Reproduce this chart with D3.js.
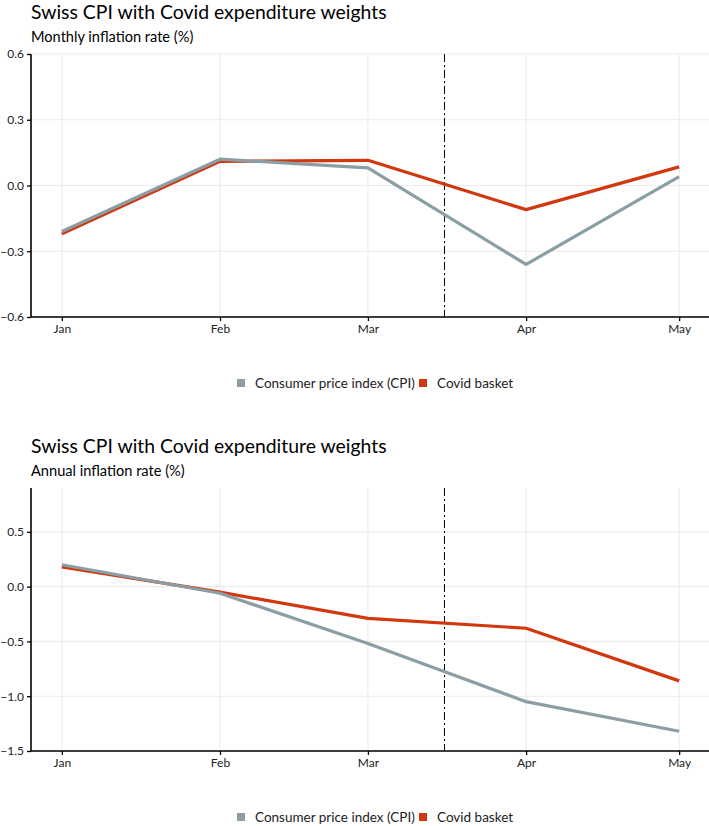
<!DOCTYPE html>
<html>
<head>
<meta charset="utf-8">
<script src="https://cdn.jsdelivr.net/npm/d3@7"></script>
<style>
  html, body { margin: 0; padding: 0; background: #fff; }
  svg { display: block; }
  text { font-family: "Lato", "Open Sans", sans-serif; }
</style>
</head>
<body>
<svg id="chart" width="709" height="826"></svg>
<script>
// ---- data ----
const months = ["2020-01-01", "2020-02-01", "2020-03-01", "2020-04-01", "2020-05-01"];
const monthLabels = ["Jan", "Feb", "Mar", "Apr", "May"];
const lockdownDate = "2020-03-16";

const monthlyCPI   = [-0.21, 0.12, 0.08, -0.36, 0.04];
const monthlyCovid = [-0.22, 0.11, 0.115, -0.11, 0.085];
const annualCPI    = [0.20, -0.06, -0.52, -1.05, -1.32];
const annualCovid  = [0.18, -0.05, -0.29, -0.38, -0.86];

const monthlyTicks = [-0.6, -0.3, 0.0, 0.3, 0.6];
const annualTicks  = [-1.5, -1.0, -0.5, 0.0, 0.5];

const seriesNames = ["Consumer price index (CPI)", "Covid basket"];
const colors = { cpi: "#8C9EA5", covid: "#D1380F" };

const title = "Swiss CPI with Covid expenditure weights";
const panels = [
  { subtitle: "Monthly inflation rate (%)", cpi: monthlyCPI, covid: monthlyCovid,
    ticks: monthlyTicks, domain: [-0.6, 0.6], offset: 0 },
  { subtitle: "Annual inflation rate (%)", cpi: annualCPI, covid: annualCovid,
    ticks: annualTicks, domain: [-1.5, 0.9], offset: 434 }
];

// ---- drawing ----
const svg = d3.select("#chart");
const parse = d3.timeParse("%Y-%m-%d");
const dates = months.map(parse);
const span = dates[dates.length - 1] - dates[0];
const pad = span * 0.05;
const x = d3.scaleTime()
  .domain([new Date(+dates[0] - pad), new Date(+dates[dates.length - 1] + pad)])
  .range([31, 710]);

const plotLeft = 31, plotRight = 709;

panels.forEach(p => {
  const g = svg.append("g").attr("transform", `translate(0,${p.offset})`);
  const top = 54, bottom = 317;
  const y = d3.scaleLinear().domain(p.domain).range([bottom, top]);

  // titles
  g.append("text").attr("x", 31).attr("y", 19)
    .attr("font-size", 19.4).attr("fill", "#000").text(title);
  g.append("text").attr("x", 31).attr("y", 42)
    .attr("font-size", 14.6).attr("fill", "#000").text(p.subtitle);

  // grid
  const grid = g.append("g");
  grid.selectAll("line.h").data(p.ticks).join("line")
    .attr("x1", plotLeft).attr("x2", plotRight)
    .attr("y1", d => y(d)).attr("y2", d => y(d))
    .attr("stroke", "#EBEBEB").attr("stroke-width", 1.1);
  grid.selectAll("line.v").data(dates).join("line")
    .attr("x1", d => x(d)).attr("x2", d => x(d))
    .attr("y1", top).attr("y2", bottom)
    .attr("stroke", "#EBEBEB").attr("stroke-width", 1.1);

  // lockdown line
  g.append("line")
    .attr("x1", x(parse(lockdownDate))).attr("x2", x(parse(lockdownDate)))
    .attr("y1", top).attr("y2", bottom)
    .attr("stroke", "#000").attr("stroke-width", 1)
    .attr("stroke-dasharray", "8,3,2,3");

  // lines
  const line = vals => d3.line().x((d, i) => x(dates[i])).y(d => y(d))(vals);
  g.append("path").attr("d", line(p.covid)).attr("fill", "none")
    .attr("stroke", colors.covid).attr("stroke-width", 3.2).attr("stroke-linejoin", "round");
  g.append("path").attr("d", line(p.cpi)).attr("fill", "none")
    .attr("stroke", colors.cpi).attr("stroke-width", 3.2).attr("stroke-linejoin", "round");

  // axes
  const yAxis = g.append("g").attr("transform", `translate(${plotLeft},0)`)
    .call(d3.axisLeft(y).tickValues(p.ticks).tickFormat(d3.format(".1f")).tickSize(4).tickPadding(3));
  const xAxis = g.append("g").attr("transform", `translate(0,${bottom})`)
    .call(d3.axisBottom(x).tickValues(dates).tickFormat((d, i) => monthLabels[i]).tickSize(4).tickPadding(3));
  [yAxis, xAxis].forEach(a => {
    a.select(".domain").attr("stroke", "#000").attr("stroke-width", 1.6);
    a.selectAll(".tick line").attr("stroke", "#000").attr("stroke-width", 1.3);
    a.selectAll(".tick text").attr("font-size", 12).attr("fill", "#222")
      .attr("font-family", "Lato, 'Open Sans', sans-serif");
  });
  yAxis.select(".domain").attr("d", `M0,${top}V${bottom}`);
  xAxis.select(".domain").attr("d", `M${plotLeft},0H${plotRight}`);

  // legend
  const leg = g.append("g").attr("transform", "translate(0,383)");
  const items = [
    { name: seriesNames[0], color: colors.cpi, x: 237 },
    { name: seriesNames[1], color: colors.covid, x: 419 }
  ];
  items.forEach(it => {
    leg.append("rect").attr("x", it.x).attr("y", -4).attr("width", 8).attr("height", 8)
      .attr("fill", it.color);
    leg.append("text").attr("x", it.x + 18).attr("y", 0).attr("dy", "0.35em")
      .attr("font-size", 13.5).attr("fill", "#222").text(it.name);
  });
});
</script>
</body>
</html>
